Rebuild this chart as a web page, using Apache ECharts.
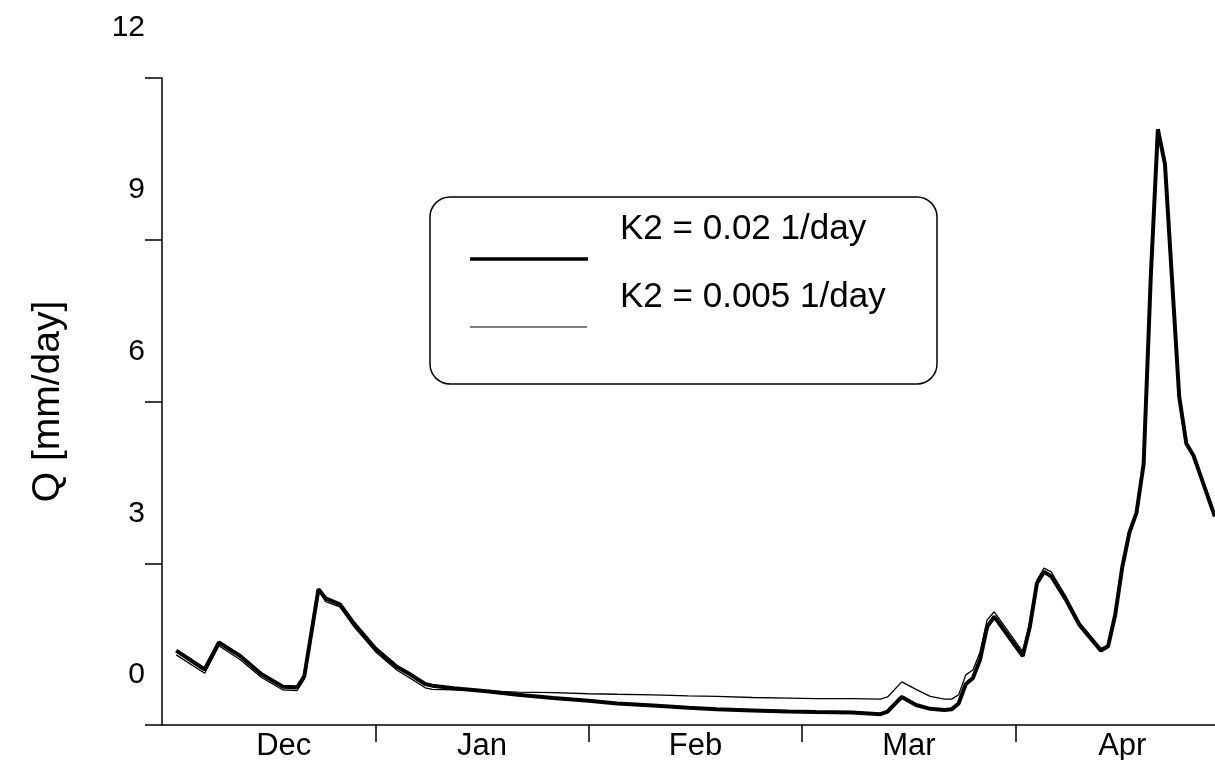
<!DOCTYPE html>
<html>
<head>
<meta charset="utf-8">
<title>Q [mm/day]</title>
<script src="https://cdn.jsdelivr.net/npm/echarts@6/dist/echarts.min.js"></script>
<style>
  html, body { margin: 0; padding: 0; background: #fff; }
  #chart { width: 1215px; height: 760px; }
</style>
</head>
<body>
<div id="chart"></div>
<script>
// Month bands along the time axis (each band = 30 days)
const months = ['Dec', 'Jan', 'Feb', 'Mar', 'Apr'];
const yTicks = [0, 3, 6, 9, 12];

// Day index from the start of the period
const days = [
  2, 6, 8, 11, 14, 17, 19, 20, 22, 23, 25, 27, 30, 33, 35, 37, 38,
  41, 46, 50, 55, 60, 64, 69, 74, 78, 83, 88, 92, 97, 101, 102,
  104, 106, 108, 110, 111, 112, 113, 114, 115, 116, 117, 121, 122,
  123, 124, 125, 127, 129, 132, 133, 134, 135, 136, 137, 138, 139,
  140, 141, 143, 144, 145, 148
];

// Discharge for K2 = 0.02 1/day
const qK2Fast = [
  1.38, 1.03, 1.53, 1.28, 0.94, 0.71, 0.70, 0.90, 2.52, 2.35, 2.24, 1.88, 1.42, 1.08, 0.93, 0.76, 0.73,
  0.68, 0.62, 0.56, 0.50, 0.45, 0.40, 0.36, 0.32, 0.29, 0.27, 0.25, 0.24, 0.23, 0.20, 0.25,
  0.52, 0.37, 0.30, 0.28, 0.29, 0.40, 0.76, 0.87, 1.21, 1.82, 2.01, 1.28, 1.82,
  2.63, 2.84, 2.76, 2.34, 1.85, 1.38, 1.46, 2.04, 2.93, 3.57, 3.94, 4.84, 8.30,
  11.05, 10.40, 6.09, 5.22, 5.00, 3.87
];

// Discharge for K2 = 0.005 1/day
const qK2Slow = [
  1.30, 0.96, 1.47, 1.21, 0.88, 0.65, 0.64, 0.85, 2.50, 2.29, 2.19, 1.82, 1.36, 1.02, 0.86, 0.69, 0.66,
  0.65, 0.63, 0.61, 0.60, 0.58, 0.57, 0.56, 0.54, 0.53, 0.51, 0.50, 0.49, 0.49, 0.48, 0.52,
  0.80, 0.66, 0.53, 0.48, 0.48, 0.56, 0.93, 1.02, 1.35, 1.95, 2.10, 1.36, 1.88,
  2.69, 2.91, 2.84, 2.40, 1.90, 1.42, 1.48, 2.05, 2.93, 3.57, 3.94, 4.84, 8.30,
  11.05, 10.40, 6.09, 5.22, 5.00, 3.87
];

const seriesNames = ['K2 = 0.02 1/day', 'K2 = 0.005 1/day'];

const FONT = '"Liberation Sans", Arial, Helvetica, sans-serif';
const chart = echarts.init(document.getElementById('chart'), null, { renderer: 'canvas' });

const pairs = vals => days.map((d, i) => [d, vals[i]]);

chart.setOption({
  animation: false,
  backgroundColor: '#fff',
  grid: {
    left: 162, top: 78, width: 1067, height: 647,
    containLabel: false, outerBoundsMode: 'none'
  },
  xAxis: [
    {
      type: 'value', min: 0, max: 150, show: false
    },
    {
      type: 'category',
      data: months,
      boundaryGap: true,
      position: 'bottom',
      axisLine: { show: true, lineStyle: { color: '#000', width: 1.5 } },
      axisTick: {
        show: true, length: 17, inside: false,
        interval: (i) => i > 0,
        lineStyle: { color: '#000', width: 1.5 }
      },
      axisLabel: {
        color: '#000', fontSize: 31, fontFamily: FONT, margin: 6,
        formatter: v => v === 'Dec' ? '{dec|' + v + '}' : v,
        rich: { dec: { fontSize: 31, fontFamily: FONT, color: '#000', padding: [0, 0, 0, 30] } }
      },
      splitLine: { show: false }
    }
  ],
  yAxis: {
    type: 'value',
    min: yTicks[0], max: yTicks[yTicks.length - 1], interval: 3,
    name: 'Q [mm/day]',
    nameLocation: 'middle',
    nameGap: 94,
    nameRotate: 90,
    nameTextStyle: { color: '#000', fontSize: 39, fontFamily: FONT },
    axisLine: { show: true, lineStyle: { color: '#000', width: 1.5 } },
    axisTick: { show: true, length: 17, inside: false, lineStyle: { color: '#000', width: 1.5 } },
    axisLabel: {
      color: '#000', fontSize: 30, fontFamily: FONT, margin: 17,
      verticalAlign: 'middle',
      formatter: v => '{v|' + v + '}',
      rich: { v: { fontSize: 30, fontFamily: FONT, color: '#000', padding: [0, 0, 100, 0] } }
    },
    splitLine: { show: false }
  },
  series: [
    {
      name: seriesNames[1], type: 'line', xAxisIndex: 0, data: pairs(qK2Slow),
      showSymbol: false, symbol: 'none', z: 2,
      lineStyle: { color: '#000', width: 1.3 }
    },
    {
      name: seriesNames[0], type: 'line', xAxisIndex: 0, data: pairs(qK2Fast),
      showSymbol: false, symbol: 'none', z: 3,
      lineStyle: { color: '#000', width: 4 }
    }
  ],
  graphic: [
    {
      type: 'group',
      children: [
        { type: 'rect', shape: { x: 430, y: 197, width: 507, height: 187, r: 20 },
          style: { fill: '#fff', stroke: '#000', lineWidth: 1.5 } },
        { type: 'line', shape: { x1: 470, y1: 259, x2: 588, y2: 259 },
          style: { stroke: '#000', lineWidth: 3.5 } },
        { type: 'line', shape: { x1: 470, y1: 327, x2: 587, y2: 327 },
          style: { stroke: '#000', lineWidth: 1.2 } },
        { type: 'text', x: 620, y: 229,
          style: { text: seriesNames[0], fill: '#000', font: '35px ' + FONT, verticalAlign: 'middle', align: 'left' } },
        { type: 'text', x: 620, y: 297,
          style: { text: seriesNames[1], fill: '#000', font: '35px ' + FONT, verticalAlign: 'middle', align: 'left' } }
      ]
    }
  ]
});
</script>
</body>
</html>
